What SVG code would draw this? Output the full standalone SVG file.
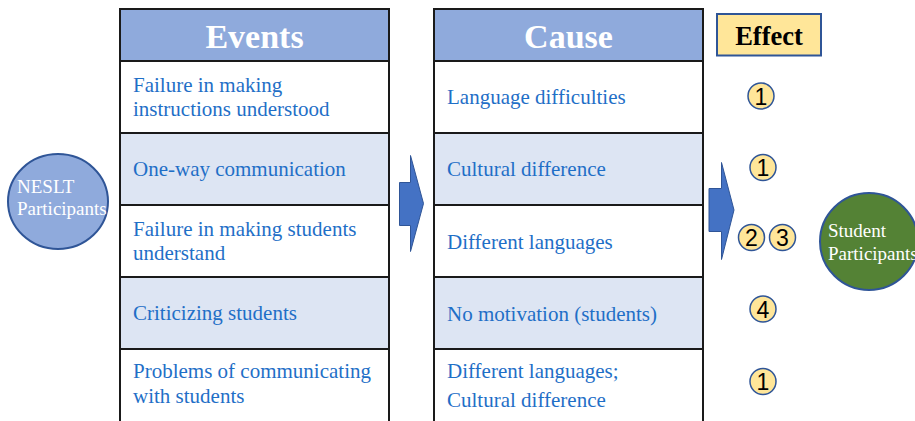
<svg xmlns="http://www.w3.org/2000/svg" width="915" height="421" viewBox="0 0 915 421">
<style>
.cell{stroke:#1a1a1a;stroke-width:2}
.hdr{fill:#8faadc}
.alt{fill:#dde5f3}
.wht{fill:#ffffff}
.ht{font-family:"Liberation Serif",serif;font-weight:bold;font-size:34px;fill:#ffffff;text-anchor:middle}
.bt{font-family:"Liberation Serif",serif;font-size:21px;fill:#1f6fc7}
.ct{font-family:"Liberation Serif",serif;font-size:19px;fill:#ffffff}
.num circle{fill:#ffe699;stroke:#2f5597;stroke-width:1.5}
.num text{font-family:"Liberation Sans",sans-serif;font-size:23px;fill:#000;text-anchor:middle}
.arr{fill:#4472c4;stroke:#2f5597;stroke-width:1}
</style>
<rect width="915" height="421" fill="#ffffff"/>
<g id="events">
<rect class="cell hdr" x="120" y="9" width="269" height="52"/>
<rect class="cell wht" x="120" y="61" width="269" height="72"/>
<rect class="cell alt" x="120" y="133" width="269" height="72"/>
<rect class="cell wht" x="120" y="205" width="269" height="72"/>
<rect class="cell alt" x="120" y="277" width="269" height="72"/>
<rect class="cell wht" x="120" y="349" width="269" height="73"/>
<text class="ht" x="254.5" y="48">Events</text>
<text class="bt" x="133" y="92">Failure in making</text>
<text class="bt" x="133" y="116">instructions understood</text>
<text class="bt" x="133" y="176">One-way communication</text>
<text class="bt" x="133" y="236">Failure in making students</text>
<text class="bt" x="133" y="260">understand</text>
<text class="bt" x="133" y="320">Criticizing students</text>
<text class="bt" x="133" y="378">Problems of communicating</text>
<text class="bt" x="133" y="403">with students</text>
</g>
<g id="cause">
<rect class="cell hdr" x="434" y="9" width="269" height="52"/>
<rect class="cell wht" x="434" y="61" width="269" height="72"/>
<rect class="cell alt" x="434" y="133" width="269" height="72"/>
<rect class="cell wht" x="434" y="205" width="269" height="72"/>
<rect class="cell alt" x="434" y="277" width="269" height="72"/>
<rect class="cell wht" x="434" y="349" width="269" height="73"/>
<text class="ht" x="568.5" y="48">Cause</text>
<text class="bt" x="447" y="103.5">Language difficulties</text>
<text class="bt" x="447" y="176">Cultural difference</text>
<text class="bt" x="447" y="248.5">Different languages</text>
<text class="bt" x="447" y="321">No motivation (students)</text>
<text class="bt" x="447" y="378">Different languages;</text>
<text class="bt" x="447" y="407">Cultural difference</text>
</g>
<g id="effect">
<rect x="717" y="14" width="104" height="41.5" fill="#ffe699" stroke="#2f5597" stroke-width="2"/>
<text x="769" y="44.5" font-family="'Liberation Serif',serif" font-weight="bold" font-size="26.5" fill="#000" text-anchor="middle">Effect</text>
</g>
<g id="effects" class="num">
<circle cx="761" cy="96" r="13"/><text x="761" y="104.5">1</text>
<circle cx="763" cy="167.5" r="13"/><text x="763" y="176">1</text>
<circle cx="751.5" cy="237.5" r="13"/><text x="751.5" y="246">2</text>
<circle cx="782.5" cy="237.5" r="13"/><text x="782.5" y="246">3</text>
<circle cx="763" cy="309" r="13"/><text x="763" y="317.5">4</text>
<circle cx="763" cy="381.5" r="13"/><text x="763" y="390">1</text>
</g>
<g id="neslt">
<ellipse cx="58" cy="201.5" rx="50" ry="47.5" fill="#8faadc" stroke="#2f5597" stroke-width="2"/>
<text class="ct" x="17" y="193">NESLT</text>
<text class="ct" x="17" y="215">Participants</text>
</g>
<g id="students">
<ellipse cx="869" cy="241.5" rx="49" ry="48.5" fill="#548235" stroke="#2f5597" stroke-width="2"/>
<text class="ct" x="828" y="237">Student</text>
<text class="ct" x="828" y="260">Participants</text>
</g>
<g id="connectors">
<polygon class="arr" points="399.5,182.5 410.5,182.5 410.5,155.5 423.5,203.5 410.5,251.5 410.5,225.5 399.5,225.5"/>
<polygon class="arr" points="709,188.5 721.5,188.5 721.5,162.5 734,210 721.5,259.5 721.5,231.5 709,231.5"/>
</g>
</svg>
